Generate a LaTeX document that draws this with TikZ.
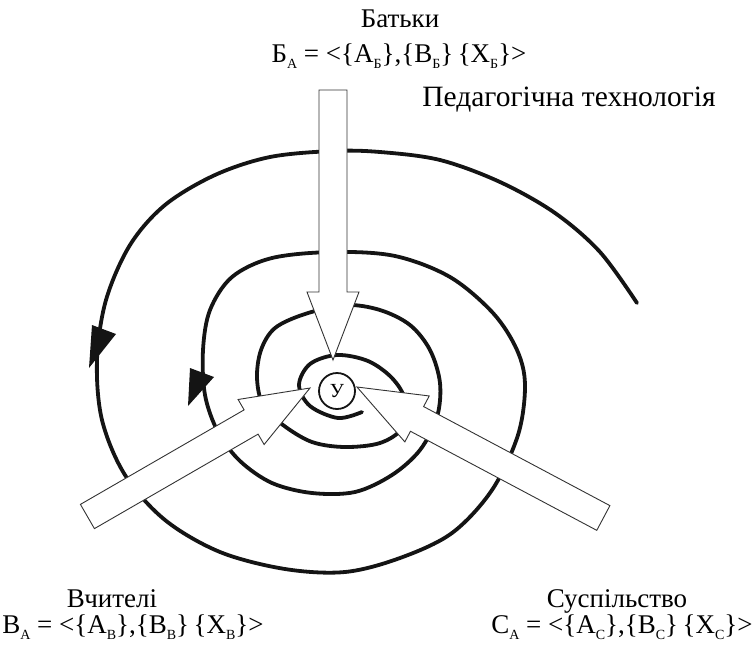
\documentclass[tikz,border=0pt]{standalone}
\usepackage{fontspec}
\setmainfont{Liberation Serif}
\usepackage{xcolor}
\usepackage{tikz}
\definecolor{edgegray}{HTML}{333333}
\definecolor{spiralink}{HTML}{141414}

\newcommand{\idx}[1]{\raisebox{-0.5ex}{\fontsize{14}{14}\selectfont #1}}
\newcommand{\blockarrow}[3]{%
  \draw[blockedge, shift={#1}, rotate=#2]
    (0,0) -- (-68,26) -- (-68,14) -- (-#3,14) -- (-#3,-14)
    -- (-68,-14) -- (-68,-26) -- cycle;}

\begin{document}
\begin{tikzpicture}[x=1pt, y=-1pt,
    spiral/.style={draw=spiralink, line width=3.8pt, line cap=round},
    blockedge/.style={draw=edgegray, fill=white, line width=0.9pt, line join=miter},
    tiphead/.style={fill=spiralink},
    label/.style={font=\fontsize{27}{30}\selectfont, anchor=base},
    formula/.style={font=\fontsize{27}{30}\selectfont, anchor=base}]
  \useasboundingbox (0,0) rectangle (753,649);

  % spiral, from the outer end inward
  \draw[spiral] plot[smooth, tension=0.55] coordinates {
    (637,303) (600,252) (555,213) (500,182) (440,160) (380,152) (333,151)
    (270,157) (215,175) (165,205) (130,245) (106,300) (97,360) (102,420)
    (125,475) (165,520) (220,552) (285,569) (345,572) (400,558) (452,533)
    (492,490) (518,435) (525,385) (517,350) (493,313) (450,277) (395,256)
    (333,252) (272,258) (232,277) (210,310) (203,350) (205,395) (218,432)
    (240,461) (272,483) (312,493) (355,492) (392,475) (420,450) (437,417)
    (440,383) (430,350) (410,325) (380,310) (345,305) (305,314) (275,328)
    (261,350) (257,378) (263,405) (283,425) (312,442) (345,447) (380,443)
    (402,428) (405,400) (392,378) (368,361) (337,355) (310,364) (299,385)
    (310,406) (338,418) (362,412)};
  \fill[tiphead] (92,325) -- (116,334) -- (89,368) -- cycle;
  \fill[tiphead] (190,368) -- (214,377) -- (188,406) -- cycle;

  % block arrows toward the pupil
  \blockarrow{(333,360)}{-90}{270}
  \blockarrow{(310,388)}{30}{257}
  \blockarrow{(357,387)}{152}{279}

  \node[draw=spiralink, line width=1.8pt, circle, minimum size=36pt, inner sep=0pt,
        font=\fontsize{20}{20}\selectfont] (pupil) at (337,391) {У};

  \node[label] (parents) at (400,27) {Батьки};
  \node[formula] (parentsset) at (399,62)
    {Б\idx{А} = <\{А\idx{Б}\},\{В\idx{Б}\}\,\{Х\idx{Б}\}>};
  \node[label, font=\fontsize{29.5}{32}\selectfont] (tech) at (569,106)
    {Педагогічна технологія};

  \node[label] (teachers) at (112,607) {Вчителі};
  \node[formula] (teachersset) at (133,633)
    {В\idx{А} = <\{А\idx{В}\},\{В\idx{В}\}\,\{Х\idx{В}\}>};

  \node[label] (society) at (617,607) {Суспільство};
  \node[formula] (societyset) at (622,633)
    {С\idx{А} = <\{А\idx{С}\},\{В\idx{С}\}\,\{Х\idx{С}\}>};
\end{tikzpicture}
\end{document}
